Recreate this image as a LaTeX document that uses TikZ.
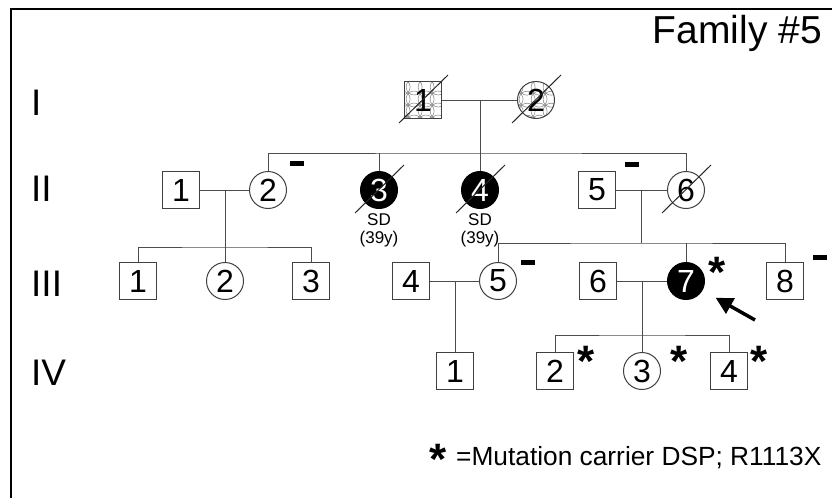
\documentclass[tikz,border=0pt]{standalone}
\usepackage{fontspec}
\setmainfont{Liberation Sans}
\usetikzlibrary{arrows.meta}
\tikzset{
  conn/.style={draw=black!70, line width=1pt},
  person/.style={draw=black!75, line width=1pt, minimum size=37pt, inner sep=0pt, fill=white, font=\fontsize{32}{32}\selectfont},
  male/.style={person, rectangle},
  female/.style={person, circle},
  affected/.style={fill=black, draw=black, text=white},
  deadslash/.style={draw=black!85, line width=1pt},
  minusmark/.style={fill=black, inner sep=0pt, minimum width=14pt, minimum height=5pt},
  carrier/.style={inner sep=0pt, anchor=base, font=\fontsize{44}{44}\selectfont\bfseries},
  genlabel/.style={inner sep=0pt, anchor=base west, font=\fontsize{37}{37}\selectfont},
  note/.style={inner sep=0pt, font=\fontsize{17}{17}\selectfont},
  lattice/.style={path picture={
    \foreach \i in {-2,...,2}{\foreach \j in {-2,...,2}{
      \draw[black!50, line width=0.5pt, shift={(path picture bounding box.center)}] (\i*12,\j*12) circle (8pt);}}}}
}
\begin{document}
\begin{tikzpicture}[x=1pt,y=-1pt]
\useasboundingbox (0,0) rectangle (832,498);
\fill[white] (0,0) rectangle (832,498);
\draw[line width=2pt] (11,498) -- (11,9) -- (832,9);

% generation labels
\node[genlabel] (gI) at (31,115) {I};
\node[genlabel] (gII) at (31,201) {II};
\node[genlabel] (gIII) at (31,296) {III};
\node[genlabel] (gIV) at (31,385) {IV};

\node[anchor=east, inner sep=0pt, font=\fontsize{39}{39}\selectfont] (title) at (822,33) {Family \#5};

% generation I
\node[male, lattice] (I1) at (423,100) {1};
\node[female, lattice] (I2) at (536,100) {2};

% generation II
\node[male] (II1) at (181,190) {1};
\node[female] (II2) at (268,190) {2};
\node[female, affected] (II3) at (379,190) {3};
\node[female, affected] (II4) at (480,190) {4};
\node[male] (II5) at (597,190) {5};
\node[female] (II6) at (686,190) {6};
\node[note] (sd3) at (379,220) {SD};
\node[note] (age3) at (379,239) {(39y)};
\node[note] (sd4) at (480,220) {SD};
\node[note] (age4) at (480,239) {(39y)};

% generation III
\node[male] (III1) at (138,281) {1};
\node[female] (III2) at (225,281) {2};
\node[male] (III3) at (311,281) {3};
\node[male] (III4) at (411,281) {4};
\node[female] (III5) at (498,281) {5};
\node[male] (III6) at (598,281) {6};
\node[female, affected] (III7) at (686,281) {7};
\node[male] (III8) at (785,281) {8};

% generation IV
\node[male] (IV1) at (455,371) {1};
\node[male] (IV2) at (555,371) {2};
\node[female] (IV3) at (642,371) {3};
\node[male] (IV4) at (729,371) {4};

% deceased slashes
\foreach \n in {I1,I2,II3,II4,II6}{
  \draw[deadslash] (\n) ++(-24,23) -- ++(49,-48);
}

% connectors
\coordinate (mI) at (480,100);
\coordinate (sII) at (480,153);
\draw[conn] (I1) -- (I2);
\draw[conn] (mI) -- (sII);
\draw[conn] (II2) |- (sII) -| (II6);
\draw[conn] (II3) -- (II3 |- sII);
\draw[conn] (sII) -- (II4);

\coordinate (mIIa) at (225,190);
\coordinate (sIIIa) at (225,247);
\draw[conn] (II1) -- (II2);
\draw[conn] (mIIa) -- (III2);
\draw[conn] (III1) |- (sIIIa) -| (III3);

\coordinate (mIIb) at (641,190);
\coordinate (sIIIb) at (641,243);
\draw[conn] (II5) -- (II6);
\draw[conn] (mIIb) -- (sIIIb);
\draw[conn] (III5) |- (sIIIb) -| (III8);
\draw[conn] (III7) -- (III7 |- sIIIb);

\coordinate (mIIIa) at (455,281);
\draw[conn] (III4) -- (III5);
\draw[conn] (mIIIa) -- (IV1);

\coordinate (mIIIb) at (642,281);
\coordinate (sIV) at (642,335);
\draw[conn] (III6) -- (III7);
\draw[conn] (mIIIb) -- (IV3);
\draw[conn] (IV2) |- (sIV) -| (IV4);

% negative marks
\node[minusmark] (neg1) at (297,163) {};
\node[minusmark] (neg2) at (632,164) {};
\node[minusmark] (neg3) at (528,262) {};
\node[minusmark] (neg4) at (820,257) {};

% carrier asterisks
\node[carrier] (c1) at (717,287) {*};
\node[carrier] (c2) at (586,376) {*};
\node[carrier] (c3) at (679,376) {*};
\node[carrier] (c4) at (759,376) {*};

% proband arrow
\coordinate (arrtail) at (755,320);
\draw[line width=3.5pt, -{Triangle[length=17pt,width=17pt]}, shorten >=15pt] (arrtail) -- (III7);

% legend
\node[carrier] (legstar) at (438,474) {*};
\node[anchor=base west, inner sep=0pt, font=\fontsize{26.3}{26.3}\selectfont] (legend) at (456,465) {=Mutation carrier DSP; R1113X};
\end{tikzpicture}
\end{document}
